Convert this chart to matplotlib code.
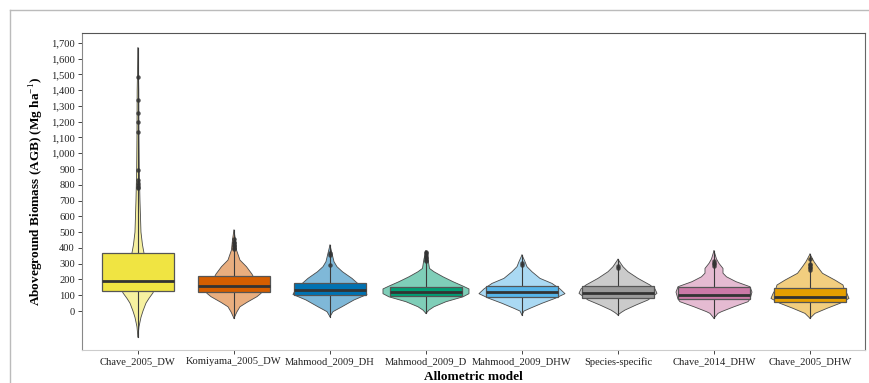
import matplotlib
matplotlib.use("Agg")
import matplotlib.pyplot as plt
from matplotlib.lines import Line2D
from matplotlib.ticker import FuncFormatter
import numpy as np

plt.rcParams["font.family"] = ["Liberation Serif", "DejaVu Serif"]
plt.rcParams["mathtext.fontset"] = "custom"
plt.rcParams["mathtext.rm"] = "Liberation Serif"
plt.rcParams["mathtext.bf"] = "Liberation Serif:bold"

models = ["Chave_2005_DW", "Komiyama_2005_DW", "Mahmood_2009_DH", "Mahmood_2009_D",
          "Mahmood_2009_DHW", "Species-specific", "Chave_2014_DHW", "Chave_2005_DHW"]
colors = ["#F0E442", "#D55E00", "#0072B2", "#009E73",
          "#56B4E9", "#999999", "#CC79A7", "#E69F00"]

# box statistics (Mg ha^-1)
q1 = [125, 122, 101, 95, 91, 82, 76, 59]
median = [188, 158, 133, 122, 118, 115, 101, 91]
q3 = [368, 222, 179, 154, 160, 157, 154, 144]

# range of each distribution (extent of violin and centre line)
ymin = [-165, -46, -36, -15, -25, -25, -46, -46]
ymax = [1668, 513, 418, 382, 355, 328, 382, 361]

# violin profiles: AGB level -> half-width of density (fraction of category spacing x 96)
violin_levels = [
    [-165, -100, -40, 0, 50, 80, 115, 150, 200, 300, 368, 420, 500, 600, 700, 900, 1100, 1400, 1668],
    [-46, -5, 27, 55, 91, 112, 122, 160, 222, 234, 281, 323, 387, 450, 513],
    [-36, -4, 27, 70, 105, 140, 179, 207, 249, 281, 313, 366, 418],
    [-15, 6, 27, 59, 90, 110, 140, 158, 186, 217, 249, 270, 330, 382],
    [-25, 0, 17, 49, 80, 110, 140, 175, 207, 249, 281, 313, 355],
    [-25, -10, 6, 38, 70, 112, 140, 165, 207, 249, 281, 328],
    [-46, -15, -4, 27, 59, 76, 120, 154, 186, 217, 240, 270, 302, 330, 382],
    [-46, -15, 17, 49, 80, 110, 144, 165, 196, 239, 281, 313, 361],
]
violin_halfwidth = [
    [0, 1, 3, 5, 8, 11, 15, 17, 18, 14, 6, 4.5, 3, 2.5, 2, 1.3, 1, 0.8, 0],
    [0, 3, 6, 13, 23, 27, 28, 26, 19, 18, 12.5, 6, 2.5, 1.5, 0],
    [0, 3, 12, 24, 37, 34, 27, 22, 12.5, 7, 4, 2, 0],
    [0, 3, 8, 20, 37, 43, 43, 37, 27, 17, 8, 3.5, 2, 0],
    [0, 2, 8, 20, 33, 43, 38, 30, 18, 10, 5, 3, 0],
    [0, 3, 7, 18, 30, 39, 37, 32, 20, 10, 5, 0],
    [0, 4, 7.5, 20, 34, 36, 38, 36, 22, 12.5, 9, 9, 5, 2.5, 0],
    [0, 5, 17, 30, 39, 37, 34, 33, 25, 12.5, 7.5, 4, 0],
]

outliers = [
    [1485, 1340, 1255, 1195, 1132, 893, 830, 810, 798, 785, 777],
    [455, 440, 430, 420, 410, 400, 392],
    [370, 355, 290],
    [376, 365, 355, 345, 335, 325, 315],
    [305, 292],
    [285, 270],
    [320, 305, 295, 285],
    [330, 300, 290, 280, 270, 262],
]

yticks = list(range(0, 1701, 100))

fig = plt.figure(figsize=(8.7, 3.83), dpi=100)
ax = fig.add_axes([82 / 870, 1 - 350 / 383, (865 - 82) / 870, (350 - 33) / 383])

box_w = 0.75
for i, c in enumerate(colors):
    lv = np.asarray(violin_levels[i], dtype=float)
    hw = np.asarray(violin_halfwidth[i], dtype=float) / 96.0
    ax.fill_betweenx(lv, i - hw, i + hw, facecolor=c, alpha=0.5,
                     edgecolor="none", zorder=1)
    ax.plot(i - hw, lv, color="#4a4a4a", lw=0.6, zorder=2)
    ax.plot(i + hw, lv, color="#4a4a4a", lw=0.6, zorder=2)
    ax.plot([i, i], [ymin[i], ymax[i]], color="#3a3a3a", lw=0.8, zorder=3)
    ax.add_patch(plt.Rectangle((i - box_w / 2, q1[i]), box_w, q3[i] - q1[i],
                               facecolor=c, edgecolor="#555555", lw=0.9, zorder=4))
    ax.plot([i - box_w / 2, i + box_w / 2], [median[i], median[i]],
            color="#333333", lw=2.0, zorder=5, solid_capstyle="butt")
    ax.plot([i] * len(outliers[i]), outliers[i], "o", color="#333333",
            ms=3.2, mec="none", alpha=0.85, zorder=6)

ax.set_xlim(-0.583, 7.573)
ax.set_ylim(-247, 1762)
ax.set_xticks(range(len(models)))
ax.set_xticklabels(models, fontsize=7.6)
ax.set_yticks(yticks)
ax.yaxis.set_major_formatter(FuncFormatter(lambda v, p: f"{int(v):,}"))
ax.tick_params(axis="both", direction="out", length=3, width=0.7,
               color="#444444", labelcolor="#222222", labelsize=7.6, pad=2)

ax.set_ylabel(r"Aboveground Biomass (AGB) (Mg ha$^{-1}$)",
              fontsize=9.5, fontweight="bold", labelpad=4)
ax.set_xlabel("Allometric model", fontsize=9.5, fontweight="bold", labelpad=3)

for side, col in [("top", "#555555"), ("right", "#666666"),
                  ("left", "#888888"), ("bottom", "#cccccc")]:
    ax.spines[side].set_color(col)
    ax.spines[side].set_linewidth(0.8)

# light frame around the panel
fig.add_artist(Line2D([10 / 870, 1.0], [1 - 10 / 383, 1 - 10 / 383],
                      transform=fig.transFigure, color="#bbbbbb", lw=1.0))
fig.add_artist(Line2D([10 / 870, 10 / 870], [0.0, 1 - 10 / 383],
                      transform=fig.transFigure, color="#bbbbbb", lw=1.0))

fig.savefig("out.png", dpi=100)
